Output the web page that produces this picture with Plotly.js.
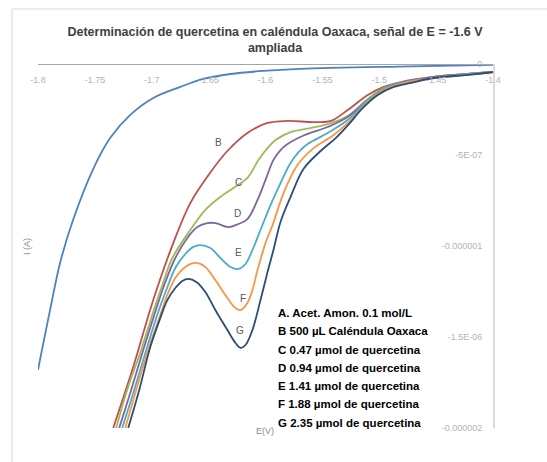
<!DOCTYPE html>
<html>
<head>
<meta charset="utf-8">
<script src="https://cdn.plot.ly/plotly-3.0.1.min.js"></script>
<style>html,body{margin:0;padding:0;background:#fff;}#chart{width:547px;height:462px;}</style>
</head>
<body>
<div id="chart"></div>
<script>
// Potential E (V) and current I (µA)
const eA = [-1.80,-1.7965,-1.7894,-1.7806,-1.7692,-1.7515,-1.7366,-1.7189,-1.6987,-1.6749,-1.6546,-1.6308,-1.6018,-1.5692,-1.4722,-1.40];
const iA = [-1.681,-1.571,-1.352,-1.093,-0.857,-0.577,-0.407,-0.280,-0.187,-0.126,-0.082,-0.055,-0.038,-0.027,-0.013,-0.004];

const eB = [-1.7339,-1.7163,-1.6987,-1.6811,-1.6661,-1.6485,-1.6335,-1.6159,-1.5982,-1.5806,-1.5577,-1.5427,-1.5278,-1.5163,-1.5101,-1.4960,-1.4811,-1.4520,-1.4220,-1.40];
const iB = [-2.000,-1.665,-1.297,-0.984,-0.764,-0.596,-0.478,-0.379,-0.324,-0.313,-0.319,-0.313,-0.253,-0.198,-0.170,-0.126,-0.099,-0.071,-0.055,-0.044];

const eC = [-1.7313,-1.7216,-1.7093,-1.6996,-1.6907,-1.6819,-1.6661,-1.6529,-1.6396,-1.6282,-1.6159,-1.6062,-1.5982,-1.5912,-1.5780,-1.5604,-1.5454,-1.5278,-1.5101,-1.4960,-1.4811,-1.4520,-1.4220,-1.40];
const iC = [-2.000,-1.791,-1.571,-1.379,-1.214,-1.066,-0.912,-0.802,-0.730,-0.681,-0.626,-0.527,-0.462,-0.418,-0.374,-0.352,-0.330,-0.286,-0.192,-0.132,-0.104,-0.071,-0.055,-0.044];

const eD = [-1.7286,-1.7181,-1.7075,-1.6978,-1.6890,-1.6793,-1.6687,-1.6599,-1.6511,-1.6441,-1.6326,-1.6238,-1.6159,-1.6070,-1.6000,-1.5930,-1.5868,-1.5806,-1.5665,-1.5454,-1.5278,-1.5101,-1.4960,-1.4811,-1.4520,-1.4220,-1.40];
const iD = [-2.000,-1.791,-1.571,-1.379,-1.214,-1.066,-0.956,-0.896,-0.874,-0.874,-0.896,-0.879,-0.852,-0.747,-0.637,-0.527,-0.473,-0.440,-0.393,-0.346,-0.291,-0.198,-0.137,-0.104,-0.071,-0.055,-0.044];

const eE = [-1.7260,-1.7154,-1.7048,-1.6952,-1.6872,-1.6793,-1.6705,-1.6634,-1.6573,-1.6485,-1.6396,-1.6308,-1.6238,-1.6176,-1.6115,-1.6044,-1.5956,-1.5868,-1.5780,-1.5709,-1.5630,-1.5454,-1.5278,-1.5101,-1.4960,-1.4811,-1.4520,-1.4220,-1.40];
const iE = [-2.000,-1.791,-1.571,-1.379,-1.242,-1.121,-1.044,-1.005,-0.995,-1.011,-1.066,-1.115,-1.126,-1.099,-1.022,-0.912,-0.775,-0.654,-0.544,-0.484,-0.440,-0.379,-0.308,-0.198,-0.137,-0.104,-0.077,-0.055,-0.044];

const eF = [-1.7233,-1.7137,-1.7031,-1.6925,-1.6863,-1.6793,-1.6705,-1.6617,-1.6529,-1.6441,-1.6335,-1.6264,-1.6220,-1.6159,-1.6115,-1.6070,-1.6000,-1.5938,-1.5841,-1.5718,-1.5577,-1.5401,-1.5251,-1.5101,-1.4960,-1.4811,-1.4520,-1.4220,-1.40];
const iF = [-2.000,-1.791,-1.571,-1.379,-1.269,-1.176,-1.115,-1.093,-1.115,-1.187,-1.286,-1.341,-1.352,-1.313,-1.242,-1.132,-0.984,-0.885,-0.709,-0.554,-0.462,-0.390,-0.308,-0.209,-0.143,-0.110,-0.077,-0.060,-0.044];

const eG = [-1.7207,-1.7110,-1.7013,-1.6925,-1.6863,-1.6793,-1.6731,-1.6678,-1.6608,-1.6529,-1.6441,-1.6335,-1.6264,-1.6220,-1.6176,-1.6115,-1.6044,-1.5982,-1.5930,-1.5868,-1.5780,-1.5665,-1.5515,-1.5383,-1.5251,-1.5163,-1.5013,-1.4872,-1.4722,-1.4520,-1.4220,-1.40];
const iG = [-2.000,-1.791,-1.555,-1.396,-1.297,-1.231,-1.192,-1.181,-1.198,-1.253,-1.352,-1.462,-1.533,-1.560,-1.544,-1.462,-1.297,-1.143,-1.022,-0.868,-0.731,-0.576,-0.478,-0.407,-0.319,-0.253,-0.170,-0.126,-0.104,-0.077,-0.060,-0.044];

const seriesNames = ['A','B','C','D','E','F','G'];
const seriesE = [eA,eB,eC,eD,eE,eF,eG];
const seriesI = [iA,iB,iC,iD,iE,iF,iG];
const seriesColors = ['#4F81BD','#C0504D','#9BBB59','#8064A2','#4BACC6','#F79646','#2C4D75'];

const xTickVals = [-1.8,-1.75,-1.7,-1.65,-1.6,-1.55,-1.5,-1.45,-1.4];
const xTickText = ['-1.8','-1.75','-1.7','-1.65','-1.6','-1.55','-1.5','-1.45','-1.4'];
const yTickVals = [0,-5e-7,-1e-6,-1.5e-6,-2e-6];
const yTickText = ['0','-5E-07','-0.000001','-1.5E-06','-0.000002'];

const legendLines = [
  'A. Acet. Amon. 0.1 mol/L',
  'B 500 µL Caléndula Oaxaca',
  'C 0.47 µmol de quercetina',
  'D 0.94 µmol de quercetina',
  'E 1.41 µmol de quercetina',
  'F 1.88 µmol de quercetina',
  'G 2.35 µmol de quercetina'
];
const curveLabels = ['B','C','D','E','F','G'];

const traces = seriesNames.map((n,k)=>({
  type:'scatter', mode:'lines', name:n,
  x: seriesE[k], y: seriesI[k].map(v=>v*1e-6),
  line:{color:seriesColors[k], width:1.8, shape:'spline', smoothing:1},
  hoverinfo:'skip'
}));

// helpers: pixel position -> paper coordinates
const L=38, R=493, T=64, B=428;
const px = x => (x-L)/(R-L);
const py = y => (B-y)/(B-T);

const labelPos = [[218,135],[238,175],[237,213],[238,253],[243,298],[240,338]];
const annotations = [];
curveLabels.forEach((t,i)=>annotations.push({
  text:t, xref:'paper', yref:'paper', x:px(labelPos[i][0]), y:py(labelPos[i][1]),
  showarrow:false, font:{family:'Liberation Sans, Arial', size:10, color:'#595959'}
}));
legendLines.forEach((t,i)=>annotations.push({
  text:'<b>'+t+'</b>', xref:'paper', yref:'paper', x:px(276), y:py(313+18.25*i),
  xanchor:'left', yanchor:'middle', showarrow:false,
  font:{family:'Liberation Sans Narrow, Liberation Sans, Arial', size:11.5, color:'#000'}
}));
annotations.push({text:'I (A)', xref:'paper', yref:'paper', x:px(20), y:py(247), textangle:-90,
  showarrow:false, font:{family:'Liberation Sans, Arial', size:9, color:'#8c8c8c'}});
annotations.push({text:'E(V)', xref:'paper', yref:'paper', x:px(265), y:py(438),
  showarrow:false, font:{family:'Liberation Sans, Arial', size:9, color:'#8c8c8c'}});

const layout = {
  width:547, height:462,
  margin:{l:L, r:547-R, t:T, b:462-B, pad:0},
  paper_bgcolor:'#fff', plot_bgcolor:'#fff',
  showlegend:false,
  title:{
    text:'<b>Determinación de quercetina en caléndula Oaxaca, señal de E = -1.6 V<br>ampliada</b>',
    xref:'container', yref:'container', x:275/547, y:1-36/462, xanchor:'center', yanchor:'top',
    font:{family:'Liberation Sans Narrow, Liberation Sans, Arial', size:12.5, color:'#404040'}
  },
  xaxis:{
    range:[-1.8,-1.4], anchor:'free', position:1, side:'bottom',
    showgrid:false, zeroline:false,
    showline:true, linecolor:'#a6a6a6', linewidth:1.2,
    tickvals:xTickVals, ticktext:xTickText,
    ticks:'outside', ticklen:7, tickcolor:'rgba(0,0,0,0)',
    tickfont:{family:'Liberation Sans, Arial', size:9, color:'#b3b3b3'}
  },
  yaxis:{
    range:[-2e-6,0], anchor:'free', position:1, side:'left',
    showgrid:false, zeroline:false,
    showline:true, linecolor:'#d9d9d9', linewidth:1.5,
    tickvals:yTickVals, ticktext:yTickText,
    ticks:'outside', ticklen:9, tickcolor:'rgba(0,0,0,0)',
    tickfont:{family:'Liberation Sans, Arial', size:9, color:'#b3b3b3'}
  },
  shapes:[
    {type:'line', xref:'paper', yref:'paper', x0:px(12), x1:px(547), y0:py(9), y1:py(9), line:{color:'#d9d9d9', width:1}},
    {type:'line', xref:'paper', yref:'paper', x0:px(12), x1:px(12), y0:py(9), y1:py(462), line:{color:'#d9d9d9', width:1}}
  ],
  annotations:annotations
};

Plotly.newPlot('chart', traces, layout, {displayModeBar:false, staticPlot:true});
</script>
</body>
</html>
